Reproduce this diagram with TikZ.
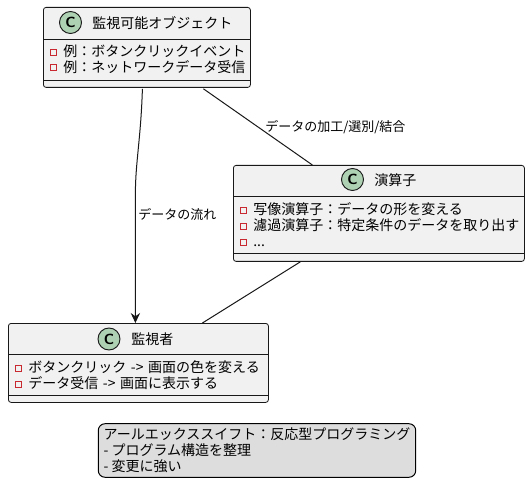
\documentclass[tikz,border=0pt]{standalone}
\usepackage{fontspec}
\setmainfont{Noto Sans CJK JP}
\usetikzlibrary{arrows.meta, calc}
\usepackage{xcolor}
\definecolor{umlline}{HTML}{181818}
\definecolor{umlfill}{HTML}{F1F1F1}
\definecolor{umlgreen}{HTML}{ADD1B2}
\definecolor{umlred}{HTML}{C82930}
\definecolor{legfill}{HTML}{DDDDDD}

\begin{document}
\begin{tikzpicture}[
  x=0.75pt, y=-0.75pt,
  box/.style={draw=umlline, fill=umlfill, rounded corners=2pt, line width=0.6pt,
              anchor=north west, inner sep=0pt},
  badge/.style={circle, draw=umlline, fill=umlgreen, line width=0.7pt, minimum size=16.5pt,
                inner sep=0pt, font=\sffamily\bfseries\fontsize{11}{11}\selectfont},
  title/.style={anchor=west, inner sep=0pt, font=\fontsize{10.5}{12}\selectfont},
  member/.style={anchor=west, inner sep=0pt, text height=8.8pt, text depth=1.7pt,
                 font=\fontsize{10.5}{12}\selectfont},
  priv/.style={draw=umlred, line width=0.7pt, minimum size=4.5pt, inner sep=0pt},
  sep/.style={draw=umlline, line width=0.6pt},
  link/.style={draw=umlline, line width=0.75pt},
  lbl/.style={anchor=west, inner sep=0pt, font=\fontsize{9.75}{11}\selectfont},
]
\useasboundingbox (0,0) rectangle (530,498);

% observable
\node[box, minimum width=155.25pt, minimum height=60pt] (obs) at (43,7) {};
\node[badge] (obs-c) at (70.5,22.5) {C};
\node[title] (obs-name) at (92,23) {監視可能オブジェクト};
\draw[sep] ($(obs.north west)+(0,32)$) -- ($(obs.north east)+(0,32)$);
\draw[sep] ($(obs.north west)+(0,73)$) -- ($(obs.north east)+(0,73)$);
\node[priv] (obs-i1) at (53,52.5) {};
\node[member] (obs-m1) at (63,52) {例：ボタンクリックイベント};
\node[priv] (obs-i2) at (53,67.5) {};
\node[member] (obs-m2) at (63,68) {例：ネットワークデータ受信};

% operator
\node[box, minimum width=218.25pt, minimum height=72pt] (op) at (233,165) {};
\node[badge] (op-c) at (352.5,179.5) {C};
\node[title] (op-name) at (374,180) {演算子};
\draw[sep] ($(op.north west)+(0,31)$) -- ($(op.north east)+(0,31)$);
\draw[sep] ($(op.north west)+(0,88)$) -- ($(op.north east)+(0,88)$);
\node[priv] (op-i1) at (243,210) {};
\node[member] (op-m1) at (253,209.5) {写像演算子：データの形を変える};
\node[priv] (op-i2) at (243,226) {};
\node[member] (op-m2) at (253,225.5) {濾過演算子：特定条件のデータを取り出す};
\node[priv] (op-i3) at (243,242) {};
\node[member] (op-m3) at (253,241.5) {...};

% observer
\node[box, minimum width=195pt, minimum height=59.25pt] (watcher) at (8,323) {};
\node[badge] (watcher-c) at (109,339) {C};
\node[title] (watcher-name) at (131,339.5) {監視者};
\draw[sep] ($(watcher.north west)+(0,31)$) -- ($(watcher.north east)+(0,31)$);
\draw[sep] ($(watcher.north west)+(0,72)$) -- ($(watcher.north east)+(0,72)$);
\node[priv] (watcher-i1) at (18,368) {};
\node[member] (watcher-m1) at (28,367.5) {ボタンクリック\hspace{3.5pt}->\hspace{3.5pt}画面の色を変える};
\node[priv] (watcher-i2) at (18,384) {};
\node[member] (watcher-m2) at (28,383.5) {データ受信\hspace{3.5pt}->\hspace{3.5pt}画面に表示する};

% connections
\draw[link, -{Stealth[length=7.5pt, width=7pt, inset=2.5pt]}]
  ($(obs.south)+(-4.5,1)$) .. controls ($(obs.south)+(-6,50)$) and ($(watcher.north)+(-3,-160)$)
  .. ($(watcher.north)+(-3,-130)$) -- ($(watcher.north)+(-3,0)$);
\node[lbl] (flow-lbl) at (138,214) {データの流れ};
\draw[link] ($(obs.south)+(56.5,1)$) -- ($(op.north)+(-66.5,0)$);
\node[lbl] (op-lbl) at (265,127) {データの加工/選別/結合};
\draw[link] ($(op.south)+(-78.5,0)$) -- ($(watcher.north)+(64,0)$);

% legend
\node[draw=black, fill=legfill, rounded corners=5pt, line width=0.75pt, align=left,
      inner xsep=4pt, inner ysep=3.2pt, font=\fontsize{10.5}{12}\selectfont] (legend) at (257,450.5)
  {アールエックススイフト：反応型プログラミング\\- プログラム構造を整理\\- 変更に強い};
\end{tikzpicture}
\end{document}
